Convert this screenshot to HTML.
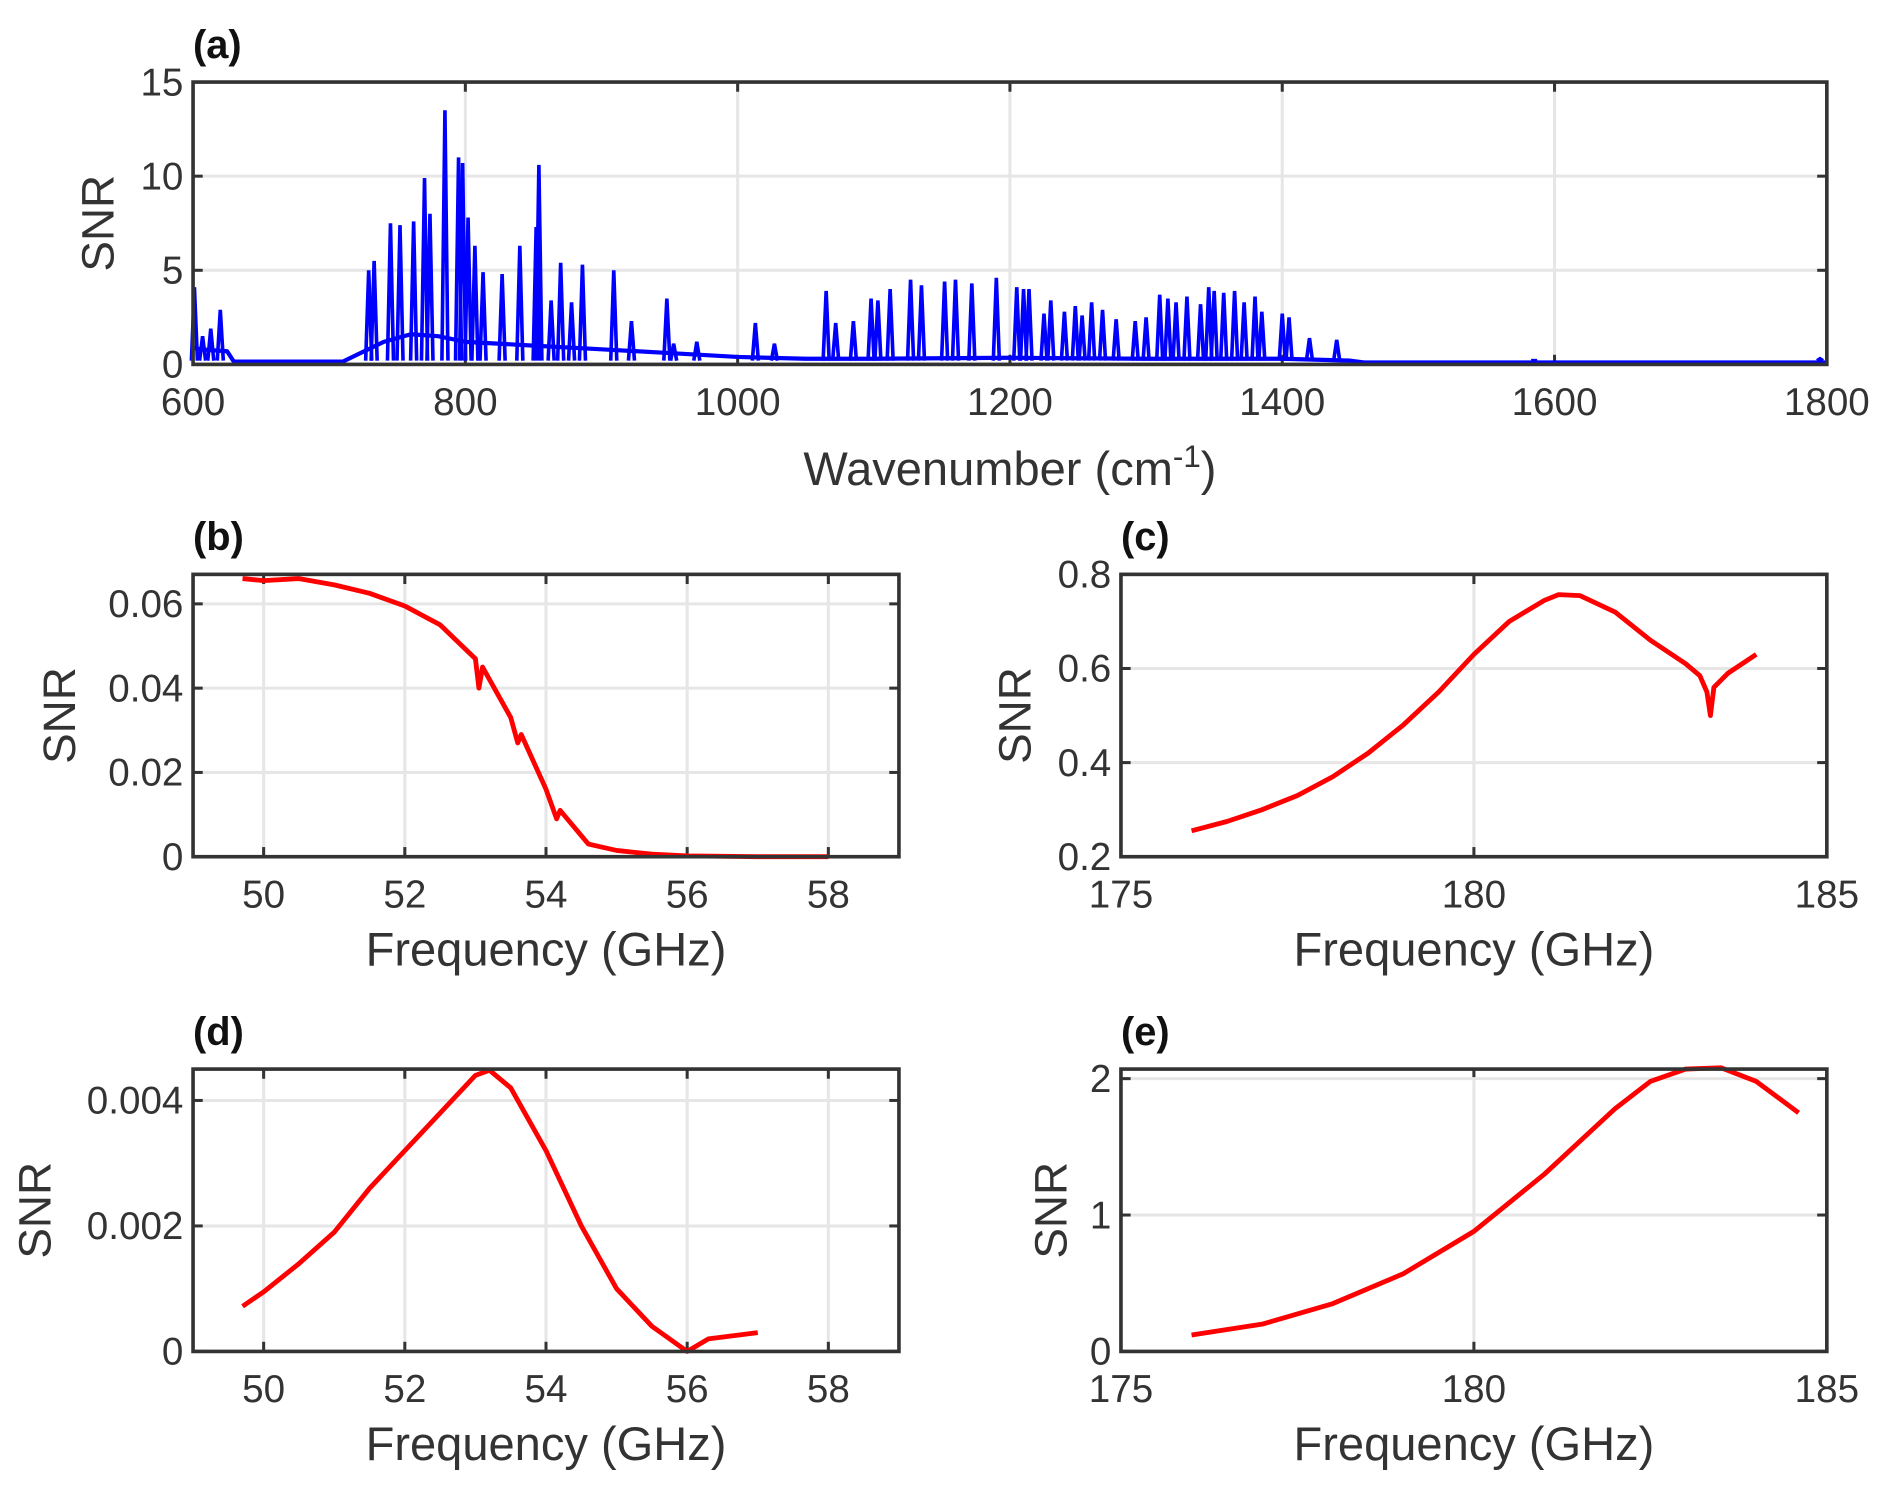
<!DOCTYPE html>
<html><head><meta charset="utf-8"><style>
html,body{margin:0;padding:0;background:#fff;}
svg{display:block;font-family:"Liberation Sans",sans-serif;}
</style></head><body>
<svg id="fig" width="1892" height="1489" viewBox="0 0 1568 1234" xmlns="http://www.w3.org/2000/svg"></svg>
<script>
// ---- panel (a) data ----
const aPeakX = [601,607,613,620,729,733,745,752,762,770,774,785,795,798,802,807,813,827,840,852,854,863,870,878,886,909,922,948,953,970,1013,1027,1065,1072,1085,1098,1103,1112,1127,1135,1152,1160,1172,1190,1205,1210,1214,1225,1230,1240,1248,1253,1260,1268,1278,1292,1300,1310,1316,1322,1330,1340,1346,1350,1357,1365,1372,1380,1385,1400,1405,1420,1440,1585,1795];
const aPeakY = [4.1,1.5,1.9,2.9,5.0,5.5,7.5,7.4,7.6,9.9,8.0,13.5,11.0,10.7,7.8,6.3,4.9,4.8,6.3,7.3,10.6,3.4,5.4,3.3,5.3,5.0,2.3,3.5,1.1,1.2,2.2,1.1,3.9,2.2,2.3,3.5,3.4,4.0,4.5,4.2,4.4,4.5,4.3,4.6,4.1,4.0,4.0,2.7,3.4,2.8,3.1,2.6,3.3,2.9,2.4,2.3,2.5,3.7,3.5,3.3,3.6,3.2,4.1,3.9,3.8,3.9,3.3,3.6,2.8,2.7,2.5,1.4,1.3,0.2,0.3];
const aBaseX = [600,605,625,630,710,720,740,760,780,800,850,900,950,1000,1050,1100,1200,1300,1400,1450,1460,1800];
const aBaseY = [0.9,0.8,0.7,0.15,0.15,0.5,1.2,1.6,1.5,1.2,1.0,0.8,0.6,0.4,0.3,0.3,0.35,0.3,0.3,0.2,0.1,0.1];
// ---- panel (b) ----
const bX = [49.7,50,50.5,51,51.5,52,52.5,53,53.05,53.1,53.5,53.6,53.65,54,54.15,54.2,54.6,55,55.5,56,57,58];
const bY = [0.066,0.0655,0.066,0.0645,0.0625,0.0595,0.055,0.047,0.040,0.045,0.033,0.027,0.029,0.016,0.009,0.011,0.003,0.0015,0.0006,0.0002,0.0,0.0];
// ---- panel (c) ----
const cX = [176,176.5,177,177.5,178,178.5,179,179.5,180,180.5,181,181.2,181.5,182,182.5,183,183.2,183.3,183.35,183.4,183.6,184];
const cY = [0.255,0.275,0.30,0.33,0.37,0.42,0.48,0.55,0.63,0.70,0.745,0.757,0.755,0.72,0.66,0.61,0.585,0.55,0.50,0.56,0.59,0.63];
// ---- panel (d) ----
const dX = [49.7,50,50.5,51,51.5,52,52.5,53,53.2,53.5,54,54.5,55,55.5,56,56.3,57];
const dY = [0.00072,0.00095,0.0014,0.0019,0.0026,0.0032,0.0038,0.0044,0.00448,0.0042,0.0032,0.002,0.0010,0.0004,0.0,0.0002,0.0003];
// ---- panel (e) ----
const eX = [176,177,178,179,180,181,182,182.5,183,183.5,184,184.6];
const eY = [0.12,0.2,0.35,0.57,0.88,1.3,1.78,1.98,2.07,2.08,1.98,1.75];
// ticks
const aXT=[600,800,1000,1200,1400,1600,1800], aYT=[0,5,10,15];
const bXT=[50,52,54,56,58], bYT=[0,0.02,0.04,0.06], bYL=["0","0.02","0.04","0.06"];
const cXT=[175,180,185], cYT=[0.2,0.4,0.6,0.8], cYL=["0.2","0.4","0.6","0.8"];
const dXT=[50,52,54,56,58], dYT=[0,0.002,0.004], dYL=["0","0.002","0.004"];
const eXT=[175,180,185], eYT=[0,1,2];

const NS="http://www.w3.org/2000/svg";
const fig=document.getElementById('fig');
function mk(tag,attrs,parent){const e=document.createElementNS(NS,tag);for(const k in attrs)e.setAttribute(k,attrs[k]);(parent||fig).appendChild(e);return e;}

function panel(id,box,xd,yd,xt,xl,yt,yl,xlabel,ylabX,ylabY,tag,xlOff){
  const g=mk('g',{});
  
  
  const [L,T,R,B]=box;
  const sx=v=>L+(v-xd[0])/(xd[1]-xd[0])*(R-L);
  const sy=v=>B-(v-yd[0])/(yd[1]-yd[0])*(B-T);
  xt.forEach((v,i)=>{const x=sx(v);
    const gl=mk('line',{x1:x,x2:x,y1:T,y2:B,stroke:'#e6e6e6','stroke-width':2.5},g);
    
    
    mk('line',{x1:x,x2:x,y1:B,y2:B-8,stroke:'#333','stroke-width':2.5},g);
    mk('line',{x1:x,x2:x,y1:T,y2:T+8,stroke:'#333','stroke-width':2.5},g);
    const t=mk('text',{x:x,y:B+42,'text-anchor':'middle','font-size':32,fill:'#333'},g);
    t.textContent=xl[i];
    
    
  });
  yt.forEach((v,i)=>{const y=sy(v);
    const gl=mk('line',{x1:L,x2:R,y1:y,y2:y,stroke:'#e6e6e6','stroke-width':2.5},g);
    
    
    mk('line',{x1:L,x2:L+8,y1:y,y2:y,stroke:'#333','stroke-width':2.5},g);
    mk('line',{x1:R,x2:R-8,y1:y,y2:y,stroke:'#333','stroke-width':2.5},g);
    const t=mk('text',{x:L-8,y:y+11,'text-anchor':'end','font-size':32,fill:'#333'},g);
    t.textContent=yl[i];
    
    
  });
  const xlab=mk('text',{x:(L+R)/2,y:B+xlOff,'text-anchor':'middle','font-size':39,fill:'#333'},g);
  xlab.innerHTML=xlabel;
  
  
  const ylab=mk('text',{x:0,y:0,'text-anchor':'middle','font-size':38,fill:'#333',transform:`translate(${ylabX},${ylabY}) rotate(-90)`},g);
  ylab.textContent='SNR';
  
  
  const pl=mk('text',{x:L,y:T-20,'font-size':33,'font-weight':'bold',fill:'#111'},g);
  pl.textContent=tag;
  
  
  return {g,sx,sy,L,T,R,B};
}
function frame(p){
  const f=mk('rect',{x:p.L,y:p.T,width:p.R-p.L,height:p.B-p.T,fill:'none',stroke:'#333','stroke-width':3},p.g);
  
  
}
function curve(p,xs,ys,col,w){
  const d=xs.map((x,i)=>(i?'L':'M')+p.sx(x).toFixed(1)+','+p.sy(ys[i]).toFixed(1)).join('');
  const c=mk('path',{d:d,fill:'none',stroke:col,'stroke-width':w,'stroke-linejoin':'round'},p.g);
  
  
}

// (a)
const pa=panel('a',[160,68,1514,302],[600,1800],[0,15],aXT,aXT.map(String),aYT,aYT.map(String),'Wavenumber (cm<tspan dy="-15" font-size="26">-1</tspan><tspan dy="15">)</tspan>',94,185,'(a)',100);
curve(pa,aBaseX,aBaseY,'#0000ff',3.5);
aPeakX.forEach((x,i)=>{
  const b=pa.sy(0.2), px=pa.sx(x), py=pa.sy(aPeakY[i]);
  const s=mk('path',{d:`M${px-2.5},${b}L${px},${py}L${px+2.5},${b}`,fill:'none',stroke:'#0000ff','stroke-width':3},pa.g);
  
  
});
frame(pa);
// (b)
const pb=panel('b',[160,476,745,710],[49,59],[0,0.067],bXT,bXT.map(String),bYT,bYL,'Frequency (GHz)',62,593,'(b)',90);
curve(pb,bX,bY,'#ff0000',4); frame(pb);
// (c)
const pc=panel('c',[929,476,1514,710],[175,185],[0.2,0.8],cXT,cXT.map(String),cYT,cYL,'Frequency (GHz)',854,593,'(c)',90);
curve(pc,cX,cY,'#ff0000',4); frame(pc);
// (d)
const pd=panel('d',[160,886,745,1120],[49,59],[0,0.0045],dXT,dXT.map(String),dYT,dYL,'Frequency (GHz)',42,1003,'(d)',90);
curve(pd,dX,dY,'#ff0000',4); frame(pd);
// (e)
const pe=panel('e',[929,886,1514,1120],[175,185],[0,2.07],eXT,eXT.map(String),eYT,eYT.map(String),'Frequency (GHz)',884,1003,'(e)',90);
curve(pe,eX,eY,'#ff0000',4); frame(pe);
</script>
</body></html>
